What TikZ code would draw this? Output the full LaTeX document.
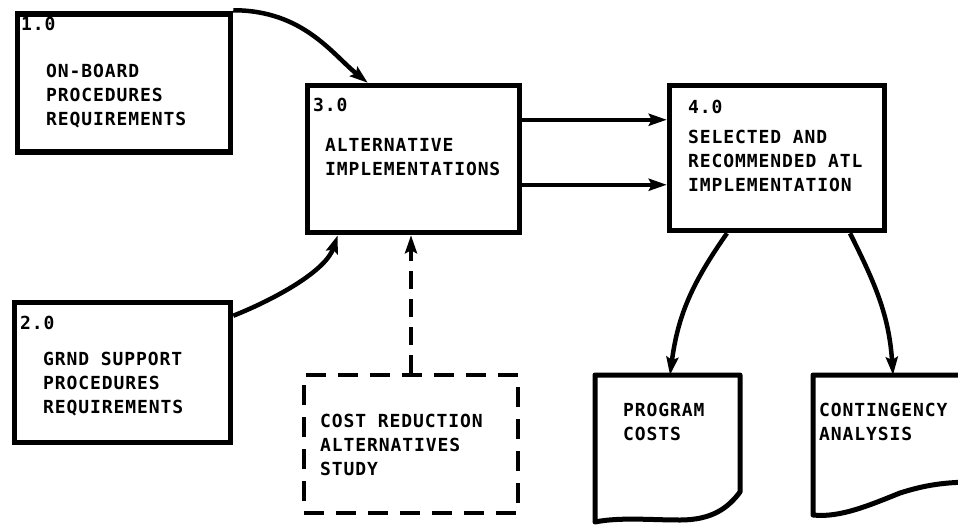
\documentclass[tikz,border=0pt]{standalone}
\usepackage{fontspec}
\newfontfamily\lab{DejaVu Sans Mono}[LetterSpace=5]
\usetikzlibrary{arrows.meta}
\begin{document}
\begin{tikzpicture}[x=1pt,y=-1pt,
  box/.style={draw,rectangle,line width=5.5pt,inner sep=0pt},
  dbox/.style={draw,rectangle,line width=4.5pt,inner sep=0pt,dash pattern=on 20pt off 12pt},
  txt/.style={anchor=north west,inner sep=0pt,align=left,font=\lab\bfseries\fontsize{18}{24}\selectfont},
  flow/.style={line width=4.5pt,-{Stealth[length=18pt,width=12pt,inset=3pt]}},
  dflow/.style={line width=4.5pt,dash pattern=on 18pt off 10pt,-{Stealth[length=18pt,width=12pt,inset=3pt]}},
  doc/.style={line width=5pt,line join=round},
  area/.style={rectangle,inner sep=0pt}]
\fill[white] (0,0) rectangle (958,525);
\useasboundingbox (0,0) rectangle (958,525);

% boxes
\node[box,minimum width=213pt,minimum height=138pt] (b1) at (124,83) {};
\node[box,minimum width=216pt,minimum height=140pt] (b2) at (122.5,372.5) {};
\node[box,minimum width=212pt,minimum height=147pt] (b3) at (413.5,159) {};
\node[box,minimum width=215pt,minimum height=145pt] (b4) at (777,158) {};
\node[dbox,minimum width=214pt,minimum height=138pt] (d) at (411,444) {};

% documents
\node[area,minimum width=145pt,minimum height=10pt,anchor=north west] (pc) at (595,375) {};
\node[area,minimum width=160pt,minimum height=10pt,anchor=north west] (ca) at (813,375) {};
\draw[doc] (595,375) -- (740,375) -- (740,492)
  .. controls (728,508) and (712,520) .. (680,520)
  .. controls (650,520) and (620,517) .. (595,522) -- cycle;
\draw[doc] (975,375) -- (813,375) -- (813,515)
  .. controls (840,518) and (870,505) .. (900,493)
  .. controls (925,485) and (945,482) .. (975,482);

% texts
\node[txt] (t1n) at (21,17) {1.0};
\node[txt] (t1) at (46,64) {ON-BOARD\\PROCEDURES\\REQUIREMENTS};
\node[txt] (t2n) at (20,316) {2.0};
\node[txt] (t2) at (43,352) {GRND SUPPORT\\PROCEDURES\\REQUIREMENTS};
\node[txt] (t3n) at (313,98) {3.0};
\node[txt] (t3) at (325,138) {ALTERNATIVE\\IMPLEMENTATIONS};
\node[txt] (t4n) at (688,100) {4.0};
\node[txt] (t4) at (688,130) {SELECTED AND\\RECOMMENDED ATL\\IMPLEMENTATION};
\node[txt] (td) at (320,414) {COST REDUCTION\\ALTERNATIVES\\STUDY};
\node[txt] (tp) at (623,403) {PROGRAM\\COSTS};
\node[txt] (tc) at (819,403) {CONTINGENCY\\ANALYSIS};

% connectors
\draw[flow] ([yshift=1pt]b1.north east) .. controls +(70,0) and +(-35,-28) .. ([xshift=63pt]b3.north west);
\draw[flow] ([yshift=-16pt]b2.north east) .. controls +(45,-18) and +(-12,35) .. ([xshift=33pt]b3.south west);
\draw[flow] ([yshift=-37pt]b3.north east) -- ([yshift=-37pt]b4.north west);
\draw[flow] ([yshift=-102pt]b3.north east) -- ([yshift=-102pt]b4.north west);
\draw[dflow] (d.north) -- (d.north |- b3.south);
\draw[flow] ([xshift=-50pt]b4.south) .. controls +(-35,50) and +(8,-60) .. ([xshift=75pt]pc.north west);
\draw[flow] ([xshift=73pt]b4.south) .. controls +(25,50) and +(-4,-60) .. ([xshift=80pt]ca.north west);
\end{tikzpicture}
\end{document}
